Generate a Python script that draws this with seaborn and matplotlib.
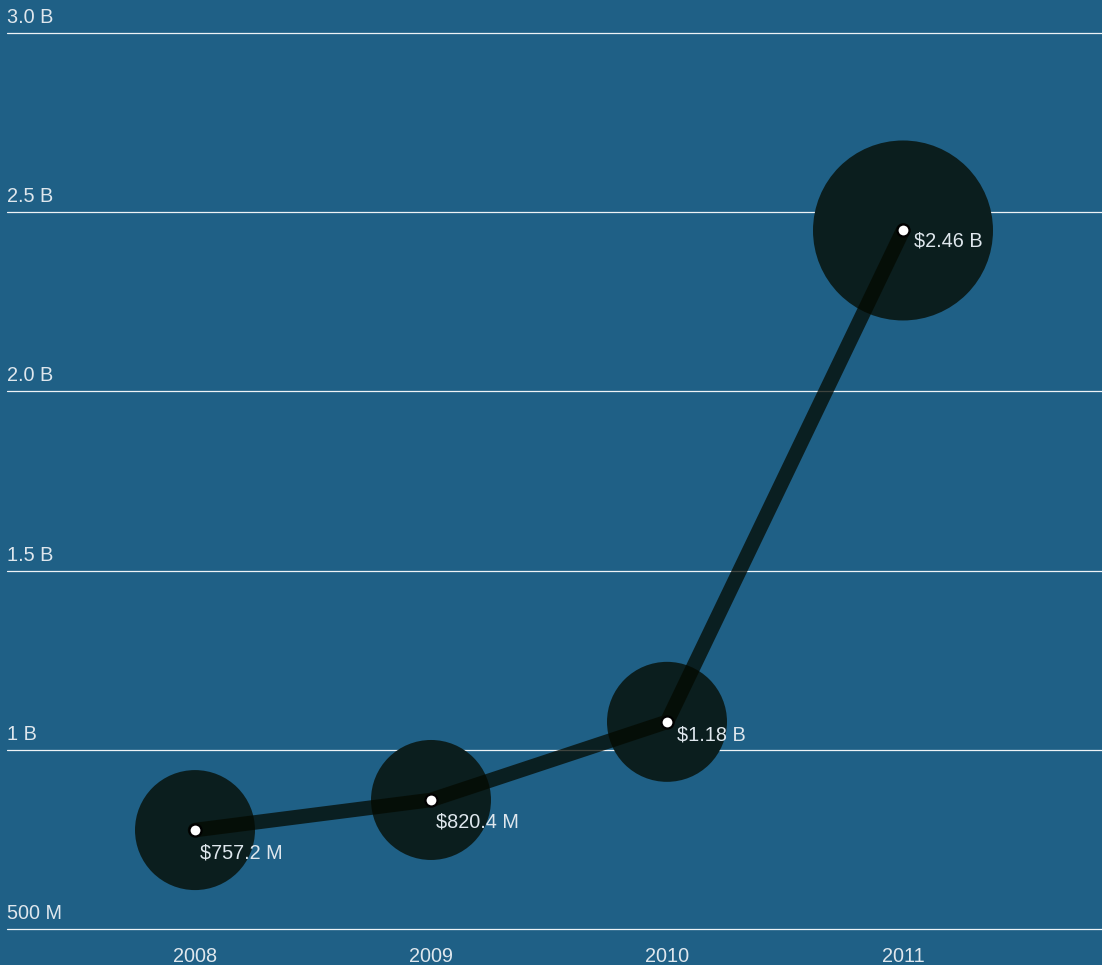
import matplotlib
matplotlib.use("Agg")
import matplotlib.pyplot as plt
import seaborn as sns
import pandas as pd

# ---- data ----
years = ["2008", "2009", "2010", "2011"]
plotted_values_b = [0.776, 0.860, 1.078, 2.449]   # vertical position (billions)
value_labels = ["$757.2 M", "$820.4 M", "$1.18 B", "$2.46 B"]
bubble_weight = [1.0, 1.0, 1.0, 2.25]
y_ticks = [0.5, 1.0, 1.5, 2.0, 2.5, 3.0]
y_tick_labels = ["500 M", "1 B", "1.5 B", "2.0 B", "2.5 B", "3.0 B"]

df = pd.DataFrame({"pos": range(len(years)), "year": years,
                   "value": plotted_values_b, "weight": bubble_weight})

BG = "#1f6086"
TXT = "#dfe7ed"
FS = 14.3
sns.set_theme(style="white")
plt.rcParams["font.family"] = ["Liberation Sans", "DejaVu Sans"]

W, H = 1102, 965
fig = plt.figure(figsize=(W / 100, H / 100), dpi=100, facecolor=BG)
ax = fig.add_axes([7 / W, (H - 929) / H, (W - 7) / W, (929 - 33) / H])
ax.set_facecolor(BG)

# bubbles
sns.scatterplot(data=df, x="pos", y="value", size="weight",
                sizes=(7465, 16796), size_norm=(1.0, 2.25),
                color="#0b1e1e", edgecolor="none", alpha=1.0,
                legend=False, ax=ax, zorder=3, clip_on=False)
# line
sns.lineplot(data=df, x="pos", y="value", color="#040900", alpha=0.75,
             linewidth=10.5, ax=ax, zorder=4, solid_capstyle="round",
             solid_joinstyle="round")
# small dots
sns.scatterplot(data=df, x="pos", y="value", s=75, color="white",
                edgecolor="black", linewidth=1.6, ax=ax, zorder=5,
                legend=False, clip_on=False)

# value labels
label_offsets = [(5, -23), (5, -22), (10, -13), (11, -11)]
for (p, v, lab, off) in zip(df["pos"], df["value"], value_labels, label_offsets):
    ax.annotate(lab, (p, v), xytext=off, textcoords="offset pixels",
                ha="left", va="center", color=TXT, fontsize=FS, zorder=6)

# gridlines + y labels
for yv, yl in zip(y_ticks, y_tick_labels):
    ax.axhline(yv, color="#eef3f6", linewidth=0.9, zorder=1, clip_on=False)
    ax.annotate(yl, (0, yv), xycoords=("axes fraction", "data"),
                xytext=(0, 10), textcoords="offset pixels",
                ha="left", va="baseline", color=TXT, fontsize=FS)

# axes limits (px mapping: pos 0 -> 195px, pos 3 -> 903px)
ax.set_xlim((7 - 195) / 236, (1102 - 195) / 236)
ax.set_ylim(0.5, 3.0)
ax.set_xticks(list(df["pos"]))
ax.set_xticklabels(years, color=TXT, fontsize=FS)
ax.tick_params(axis="x", length=0, pad=13)
ax.set_yticks([])
ax.set_xlabel("")
ax.set_ylabel("")
for s in ax.spines.values():
    s.set_visible(False)

fig.savefig("out.png", dpi=100, facecolor=BG)
